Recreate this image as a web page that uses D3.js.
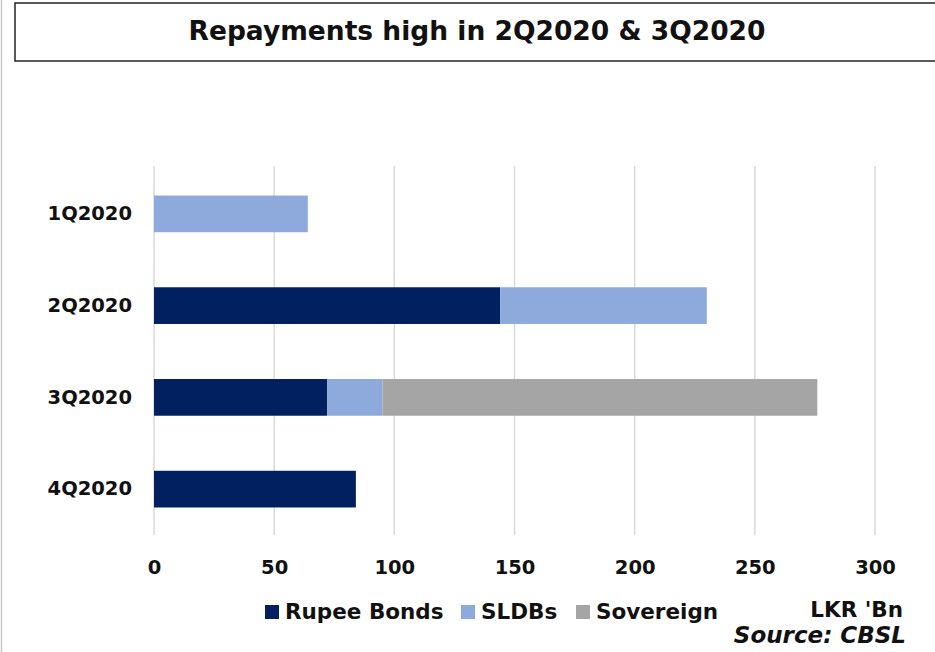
<!DOCTYPE html>
<html>
<head>
<meta charset="utf-8">
<script src="https://cdn.jsdelivr.net/npm/d3@7"></script>
<style>
  body { margin: 0; background: #fff; }
  svg { display: block; font-family: "DejaVu Sans", sans-serif; }
</style>
</head>
<body>
<svg id="chart" width="935" height="652"></svg>
<script>
// data
const quarters = ["1Q2020", "2Q2020", "3Q2020", "4Q2020"];
const seriesNames = ["Rupee Bonds", "SLDBs", "Sovereign"];
const rupeeBonds = [0, 144, 72, 84];
const sldbs = [64, 86, 23, 0];
const sovereign = [0, 0, 181, 0];
const xTicks = [0, 50, 100, 150, 200, 250, 300];

const colors = ["#002060", "#8EA9DB", "#A5A5A5"];
const font = "DejaVu Sans, sans-serif";

const rows = quarters.map((q, i) => ({
  quarter: q,
  "Rupee Bonds": rupeeBonds[i],
  "SLDBs": sldbs[i],
  "Sovereign": sovereign[i]
}));

const svg = d3.select("#chart");

// left frame line
svg.append("line")
  .attr("x1", 1.5).attr("x2", 1.5).attr("y1", 0).attr("y2", 652)
  .attr("stroke", "#c8c8c8").attr("stroke-width", 1.5);

// title box
svg.append("rect")
  .attr("x", 15).attr("y", 3).attr("width", 940).attr("height", 58)
  .attr("fill", "#fff").attr("stroke", "#222").attr("stroke-width", 1.5);
svg.append("text")
  .attr("x", 477).attr("y", 40)
  .attr("text-anchor", "middle")
  .attr("font-size", 26.5).attr("font-weight", "bold")
  .attr("fill", "#111")
  .text("Repayments high in 2Q2020 & 3Q2020");

const x = d3.scaleLinear().domain([0, 300]).range([154, 875]);
const y = d3.scaleBand().domain(quarters).range([168, 535]).paddingInner(0.6).paddingOuter(0.3);

// gridlines
svg.append("g")
  .selectAll("line")
  .data(xTicks)
  .join("line")
  .attr("x1", d => x(d)).attr("x2", d => x(d))
  .attr("y1", 166).attr("y2", 535)
  .attr("stroke", "#d9d9d9").attr("stroke-width", 1.5);

// stacked bars
const stack = d3.stack().keys(seriesNames)(rows);
svg.append("g")
  .selectAll("g")
  .data(stack)
  .join("g")
  .attr("fill", (d, i) => colors[i])
  .selectAll("rect")
  .data(d => d.filter(s => s[1] - s[0] > 0))
  .join("rect")
  .attr("x", d => x(d[0]))
  .attr("width", d => x(d[1]) - x(d[0]))
  .attr("y", d => y(d.data.quarter))
  .attr("height", y.bandwidth());

// x axis labels
const xAxis = d3.axisBottom(x).tickValues(xTicks).tickSize(0).tickPadding(0);
svg.append("g")
  .attr("transform", "translate(0,560)")
  .call(xAxis)
  .call(g => g.select(".domain").remove())
  .selectAll("text")
  .attr("font-size", 19.5).attr("font-weight", "bold")
  .attr("font-family", font)
  .attr("fill", "#111");

// y axis labels
const yAxis = d3.axisLeft(y).tickSize(0).tickPadding(22);
svg.append("g")
  .attr("transform", "translate(154,0)")
  .call(yAxis)
  .call(g => g.select(".domain").remove())
  .selectAll("text")
  .attr("font-size", 19.5).attr("font-weight", "bold")
  .attr("font-family", font)
  .attr("fill", "#111");

// legend
const legendX = [265, 461, 576];
const legend = svg.append("g").selectAll("g")
  .data(seriesNames)
  .join("g")
  .attr("transform", (d, i) => `translate(${legendX[i]},605)`);
legend.append("rect")
  .attr("width", 14).attr("height", 14)
  .attr("fill", (d, i) => colors[i]);
legend.append("text")
  .attr("x", 20).attr("y", 14)
  .attr("font-size", 21.5).attr("font-weight", "bold")
  .attr("fill", "#111")
  .text(d => d);

svg.append("text")
  .attr("x", 903).attr("y", 617)
  .attr("text-anchor", "end")
  .attr("font-size", 21.5).attr("font-weight", "bold")
  .attr("fill", "#111")
  .text("LKR 'Bn");

svg.append("text")
  .attr("x", 906).attr("y", 643)
  .attr("text-anchor", "end")
  .attr("font-size", 23).attr("font-weight", "bold").attr("font-style", "italic")
  .attr("fill", "#111")
  .text("Source: CBSL");
</script>
</body>
</html>
